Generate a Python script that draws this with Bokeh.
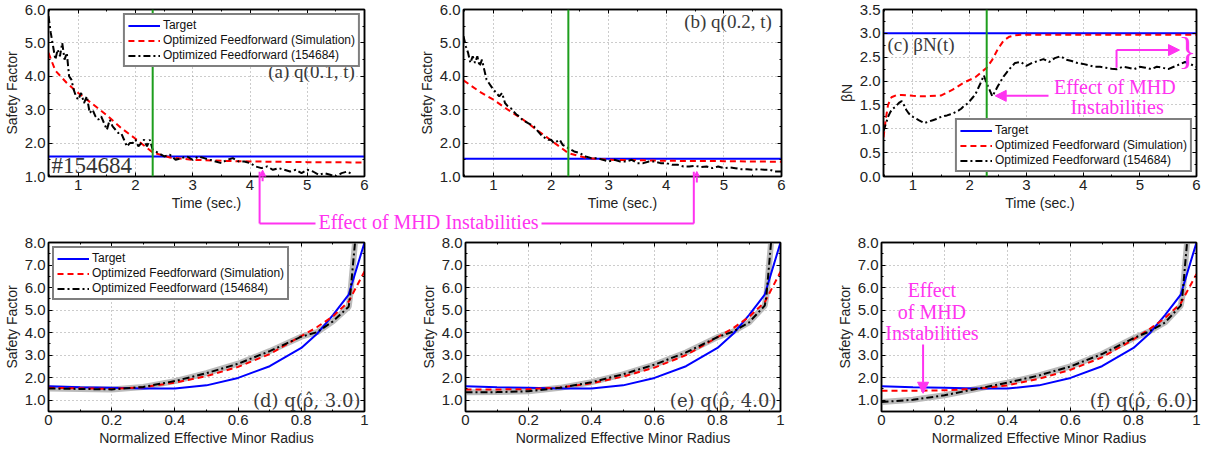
from bokeh.plotting import figure
from bokeh.layouts import column, row
from bokeh.models import (Range1d, LinearAxis, FixedTicker, NumeralTickFormatter,
                          Label, Arrow, NormalHead, Span)
from bokeh.embed import file_html
from bokeh.resources import INLINE

# ---------------- data ----------------
T_START, T_END = 0.48, 6.0
T_FF = 2.3  # feedforward/feedback switch time (green line)

# simulated (optimized feedforward) time traces
t_sim_a = [0.48, 0.6, 0.8, 1.0, 1.25, 1.5, 1.75, 2.0, 2.3, 2.6, 3.0, 3.5, 4.0, 5.0, 6.0]
q_sim_a = [4.7, 4.17, 3.8, 3.5, 3.17, 2.83, 2.45, 2.13, 1.72, 1.57, 1.5, 1.47, 1.45, 1.43, 1.42]
t_sim_b = [0.48, 0.75, 1.0, 1.25, 1.5, 1.75, 2.0, 2.3, 2.6, 3.0, 3.5, 4.0, 5.0, 6.0]
q_sim_b = [3.88, 3.55, 3.3, 3.0, 2.72, 2.4, 2.08, 1.7, 1.56, 1.5, 1.49, 1.47, 1.46, 1.44]
t_sim_c = [0.48, 0.52, 0.56, 0.62, 0.7, 0.8, 1.0, 1.2, 1.5, 1.7, 1.9, 2.1, 2.3, 2.4, 2.5,
           2.6, 2.7, 2.8, 2.9, 3.0, 4.0, 5.0, 6.0]
beta_sim = [0.82, 1.2, 1.5, 1.66, 1.7, 1.71, 1.69, 1.68, 1.7, 1.82, 1.97, 2.08, 2.28, 2.45, 2.68,
            2.85, 2.93, 2.96, 2.97, 2.97, 2.97, 2.97, 2.97]

# experimental (shot 154684) time traces
t_meas = [0.48, 0.52, 0.56, 0.60, 0.64, 0.68, 0.72, 0.76, 0.80, 0.84,
          0.88, 0.92, 0.96, 1.00, 1.05, 1.10, 1.15, 1.20, 1.25, 1.30,
          1.35, 1.40, 1.45, 1.50, 1.55, 1.60, 1.65, 1.70, 1.75, 1.80,
          1.85, 1.90, 1.95, 2.00, 2.05, 2.10, 2.15, 2.20, 2.25, 2.30,
          2.40, 2.50, 2.60, 2.70, 2.80, 2.90, 3.00, 3.10, 3.20, 3.30,
          3.40, 3.50, 3.60, 3.70, 3.80, 3.90, 4.00, 4.10, 4.20, 4.30,
          4.40, 4.50, 4.60, 4.70, 4.80, 4.90, 5.00, 5.10, 5.20, 5.30,
          5.40, 5.50, 5.60, 5.70, 5.80, 5.90, 6.00]
q_meas_a = [5.8, 5.3, 4.9, 4.5, 4.8, 4.6, 5.0, 4.5, 4.7, 4.0,
            3.9, 3.6, 3.4, 3.3, 3.5, 3.2, 3.4, 2.9, 3.0, 2.8,
            2.7, 2.8, 2.6, 2.4, 2.7, 2.5, 2.4, 2.3, 2.3, 2.1,
            1.9, 2.0, 2.0, 2.1, 1.9, 2.0, 2.1, 1.9, 2.1, 1.8,
            1.7, 1.6, 1.65, 1.5, 1.55, 1.6, 1.5, 1.6, 1.55, 1.5,
            1.45, 1.4, 1.5, 1.55, 1.45, 1.45, 1.4, 1.3, 1.25, 1.3,
            1.2, 1.25, 1.2, 1.15, 1.2, 1.1, 1.2, 1.15, 1.05, 1.1,
            1.05, 1.0, 1.1, 1.15, 1.05]
q_meas_b = [5.2, 4.9, 4.7, 4.4, 4.6, 4.4, 4.6, 4.3, 4.5, 4.2,
            3.9, 3.8, 3.7, 3.6, 3.5, 3.4, 3.5, 3.2, 3.1, 3.05,
            2.95, 2.85, 2.8, 2.7, 2.65, 2.6, 2.55, 2.5, 2.4, 2.3,
            2.2, 2.15, 2.1, 2.1, 2.0, 2.05, 2.1, 1.95, 1.9, 1.85,
            1.75, 1.7, 1.6, 1.55, 1.55, 1.5, 1.45, 1.5, 1.45, 1.45,
            1.5, 1.4, 1.4, 1.45, 1.45, 1.4, 1.4, 1.35, 1.35, 1.3,
            1.3, 1.32, 1.28, 1.3, 1.25, 1.3, 1.25, 1.27, 1.25, 1.22,
            1.22, 1.2, 1.22, 1.2, 1.2, 1.15, 1.15]
beta_meas = [0.95, 1.1, 1.25, 1.35, 1.42, 1.45, 1.5, 1.55, 1.58, 1.5,
             1.4, 1.33, 1.28, 1.25, 1.22, 1.18, 1.15, 1.12, 1.14, 1.16,
             1.18, 1.2, 1.23, 1.25, 1.27, 1.28, 1.3, 1.32, 1.35, 1.38,
             1.42, 1.48, 1.52, 1.58, 1.65, 1.72, 1.85, 1.98, 2.12, 1.95,
             1.68, 1.9, 2.1, 2.25, 2.38, 2.4, 2.32, 2.38, 2.42, 2.46,
             2.4, 2.48, 2.52, 2.45, 2.42, 2.38, 2.36, 2.33, 2.3, 2.3,
             2.28, 2.26, 2.25, 2.3, 2.28, 2.25, 2.3, 2.28, 2.25, 2.3,
             2.28, 2.25, 2.3, 2.35, 2.4, 2.35, 2.3]

q_target_a = 1.6
q_target_b = 1.53
beta_target = 3.0

# profiles
rho = [0, 0.1, 0.2, 0.3, 0.4, 0.5, 0.6, 0.7, 0.8, 0.85, 0.9, 0.95, 1.0]
q_target_prof = [1.62, 1.58, 1.55, 1.52, 1.52, 1.66, 1.99, 2.51, 3.32, 3.95, 4.78, 5.69, 8.0]
q_sim_d = [1.55, 1.53, 1.5, 1.58, 1.78, 2.07, 2.48, 3.05, 3.85, 4.25, 4.72, 5.38, 6.72]
q_sim_e = [1.48, 1.48, 1.49, 1.57, 1.75, 2.05, 2.45, 3.0, 3.8, 4.2, 4.7, 5.35, 6.7]
q_sim_f = [1.42, 1.42, 1.44, 1.5, 1.66, 1.95, 2.35, 2.9, 3.7, 4.15, 4.65, 5.3, 6.6]
rho_meas = [0, 0.1, 0.2, 0.3, 0.4, 0.5, 0.6, 0.7, 0.8, 0.85, 0.9, 0.95, 0.955, 0.97]
q_meas_d = [1.52, 1.5, 1.48, 1.59, 1.85, 2.2, 2.62, 3.18, 3.82, 4.02, 4.5, 5.15, 5.7, 8.0]
q_meas_e = [1.35, 1.36, 1.4, 1.55, 1.8, 2.15, 2.58, 3.12, 3.8, 4.05, 4.45, 5.2, 5.6, 8.0]
q_meas_f = [0.92, 1.02, 1.22, 1.5, 1.78, 2.1, 2.5, 3.05, 3.75, 4.05, 4.45, 5.2, 5.6, 8.0]

t_ticks = [1, 2, 3, 4, 5, 6]
q_ticks_top = [1, 2, 3, 4, 5, 6]
beta_ticks = [0, 0.5, 1.0, 1.5, 2.0, 2.5, 3.0, 3.5]
rho_ticks = [0, 0.2, 0.4, 0.6, 0.8, 1]
rho_tick_labels = ["0", "0.2", "0.4", "0.6", "0.8", "1"]
q_ticks_bot = [1, 2, 3, 4, 5, 6, 7, 8]

LEG_TARGET = "Target"
LEG_SIM = "Optimized Feedforward (Simulation)"
LEG_MEAS = "Optimized Feedforward (154684)"
MHD_TEXT = "Effect of MHD Instabilities"

# ---------------- style ----------------
SANS = "Liberation Sans"
SERIF = "Liberation Serif"
SERIF_MATH = "DejaVu Serif"
PINK = "#ff33f0"
GREEN = "#1e9e1e"
BLUE = "#0000ff"
RED = "#ff0000"
DASH = "6 4"
DASHDOT = "7 3 2 3"

TOP_FH, BOT_FH = 167, 169
BT, BB = 9, 36


def make_fig(xr, yr, fw, fh, bl, br, xticks, xminor, yticks, yminor, xlabel, ylabel):
    p = figure(frame_width=fw, frame_height=fh, x_range=Range1d(*xr), y_range=Range1d(*yr),
               output_backend="svg", toolbar_location=None,
               min_border_left=bl, min_border_right=br, min_border_top=BT, min_border_bottom=BB)
    p.outline_line_color = "black"
    p.outline_line_width = 1.5
    p.background_fill_color = "white"
    p.border_fill_color = "white"
    xt = FixedTicker(ticks=xticks, minor_ticks=xminor)
    yt = FixedTicker(ticks=yticks, minor_ticks=yminor)
    p.below[0].ticker = xt
    p.left[0].ticker = yt
    p.xgrid.ticker = xt
    p.ygrid.ticker = yt
    p.left[0].formatter = NumeralTickFormatter(format="0.0")
    p.below[0].axis_label = xlabel
    p.left[0].axis_label = ylabel
    for ax in (p.below[0], p.left[0]):
        ax.axis_line_width = 1.5
        ax.axis_line_color = "black"
        ax.major_tick_in = 4
        ax.major_tick_out = 0
        ax.minor_tick_in = 2
        ax.minor_tick_out = 0
        ax.major_tick_line_color = "black"
        ax.major_label_text_font = SANS
        ax.major_label_text_font_size = "15px"
        ax.major_label_text_color = "#222222"
        ax.axis_label_text_font = SANS
        ax.axis_label_text_font_size = "14px"
        ax.axis_label_text_font_style = "normal"
        ax.axis_label_text_color = "#222222"
        ax.major_label_standoff = 3
        ax.axis_label_standoff = 2
    for loc, tk, vals in (("right", yt, yticks), ("above", xt, xticks)):
        ax = LinearAxis(ticker=tk, major_label_standoff=0,
                        major_label_overrides={v: "" for v in vals},
                        major_tick_in=4, major_tick_out=0, minor_tick_in=2, minor_tick_out=0,
                        axis_line_width=1.5, axis_line_color="black")
        p.add_layout(ax, loc)
    p.grid.grid_line_color = "#999999"
    p.grid.grid_line_dash = "1 3"
    p.grid.grid_line_width = 1
    return p


def style_legend(p, loc):
    lg = p.legend[0]
    lg.location = loc
    lg.border_line_color = "black"
    lg.border_line_width = 2
    lg.background_fill_alpha = 1
    lg.label_text_font = SANS
    lg.label_text_font_size = "12px"
    lg.label_text_color = "#111111"
    lg.glyph_width = 32
    lg.glyph_height = 13
    lg.label_height = 13
    lg.label_standoff = 3
    lg.spacing = 1
    lg.padding = 3
    lg.margin = 4


def inset(p, x, y, text, align, xoff, size="19px", color="#3a3a3a", font=SERIF, baseline="middle"):
    p.add_layout(Label(x=x, y=y, x_offset=xoff, text=text, text_align=align,
                       text_baseline=baseline, text_font=font, text_font_size=size,
                       text_color=color))


def pink_arrow(p, x0, y0, x1, y1, head=True):
    p.add_layout(Arrow(x_start=x0, y_start=y0, x_end=x1, y_end=y1,
                       line_color=PINK, line_width=2,
                       end=NormalHead(size=11, fill_color=PINK, line_color=PINK) if head else None))


t_minor = [0.5 * k for k in range(1, 13)]
q_minor_top = [1 + 0.5 * k for k in range(0, 11)]
beta_minor = [0.25 * k for k in range(0, 15)]
rho_minor = [0.1 * k for k in range(0, 11)]
q_minor_bot = [0.5 + 0.5 * k for k in range(0, 16)]

# geometry (pixels)
FW_A, BL_A, BR_A = 316, 45, 41
FW_B, BL_B, BR_B = 318, 58, 42
FW_C, BL_C, BR_C = 313, 60, 5
FW_D, BL_D, BR_D = 316, 45, 41
FW_E, BL_E, BR_E = 315, 60, 43
FW_F, BL_F, BR_F = 315, 58, 5

ARROW_T_A, ARROW_Q_A = 4.22, 1.19
ARROW_T_B, ARROW_Q_B = 4.53, 1.15

# ---------------- panel (a) ----------------
pa = make_fig((T_START, T_END), (1, 6), FW_A, TOP_FH, BL_A, BR_A, t_ticks, t_minor,
              q_ticks_top, q_minor_top, "Time (sec.)", "Safety Factor")
pa.add_layout(Span(location=T_FF, dimension="height", line_color=GREEN, line_width=2))
pa.line([T_START, T_END], [q_target_a, q_target_a], line_color=BLUE, line_width=2, legend_label=LEG_TARGET)
pa.line(t_sim_a, q_sim_a, line_color=RED, line_width=2, line_dash=DASH, legend_label=LEG_SIM)
pa.line(t_meas[:len(q_meas_a)], q_meas_a, line_color="black", line_width=2, line_dash=DASHDOT,
        legend_label=LEG_MEAS)
style_legend(pa, "top_right")
inset(pa, T_END, 4.15, "(a)  q(0.1, t)", "right", -5)
inset(pa, T_START, 1.33, "#154684", "left", 3, size="23px", color="#333333")
pink_arrow(pa, ARROW_T_A, 0.5, ARROW_T_A, ARROW_Q_A)

# ---------------- panel (b) ----------------
pb = make_fig((T_START, T_END), (1, 6), FW_B, TOP_FH, BL_B, BR_B, t_ticks, t_minor,
              q_ticks_top, q_minor_top, "Time (sec.)", "Safety Factor")
pb.add_layout(Span(location=T_FF, dimension="height", line_color=GREEN, line_width=2))
pb.line([T_START, T_END], [q_target_b, q_target_b], line_color=BLUE, line_width=2)
pb.line(t_sim_b, q_sim_b, line_color=RED, line_width=2, line_dash=DASH)
pb.line(t_meas, q_meas_b, line_color="black", line_width=2, line_dash=DASHDOT)
inset(pb, T_END, 5.63, "(b)  q(0.2, t)", "right", -5)
pink_arrow(pb, ARROW_T_B, 0.5, ARROW_T_B, ARROW_Q_B)

# ---------------- panel (c) ----------------
pc = make_fig((T_START, T_END), (0, 3.5), FW_C, TOP_FH, BL_C, BR_C, t_ticks, t_minor,
              beta_ticks, beta_minor, "Time (sec.)", "βN")
pc.add_layout(Span(location=T_FF, dimension="height", line_color=GREEN, line_width=2))
pc.line([T_START, T_END], [beta_target, beta_target], line_color=BLUE, line_width=2, legend_label=LEG_TARGET)
pc.line(t_sim_c, beta_sim, line_color=RED, line_width=2, line_dash=DASH, legend_label=LEG_SIM)
pc.line(t_meas, beta_meas, line_color="black", line_width=2, line_dash=DASHDOT, legend_label=LEG_MEAS)
style_legend(pc, "bottom_right")
inset(pc, T_START, 2.76, "(c)  βN(t)", "left", 4)
inset(pc, 4.56, 1.88, "Effect of MHD", "center", 0, size="20px", color=PINK)
inset(pc, 4.6, 1.45, "Instabilities", "center", 0, size="20px", color=PINK)
pink_arrow(pc, 3.39, 1.69, 2.45, 1.69)
pc.segment(x0=[4.59], y0=[2.28], x1=[4.59], y1=[2.65], line_color=PINK, line_width=2)
pink_arrow(pc, 4.59, 2.65, 5.7, 2.65)
inset(pc, 5.84, 2.64, "}", "center", 0, size="38px", color=PINK)

# ---------------- profile panels ----------------
def profile_panel(fw, bl, br, q_sim, q_meas, tag, legend):
    p = make_fig((0, 1), (0.5, 8), fw, BOT_FH, bl, br, rho_ticks, rho_minor,
                 q_ticks_bot, q_minor_bot, "Normalized Effective Minor Radius", "Safety Factor")
    p.below[0].major_label_overrides = dict(zip(rho_ticks, rho_tick_labels))
    kw_t = dict(legend_label=LEG_TARGET) if legend else {}
    kw_s = dict(legend_label=LEG_SIM) if legend else {}
    kw_m = dict(legend_label=LEG_MEAS) if legend else {}
    p.line(rho_meas, q_meas, line_color="#b4b4b4", line_width=6, line_alpha=0.9)
    p.line(rho, q_target_prof, line_color=BLUE, line_width=2, **kw_t)
    p.line(rho, q_sim, line_color=RED, line_width=2, line_dash=DASH, **kw_s)
    p.line(rho_meas, q_meas, line_color="black", line_width=2, line_dash=DASHDOT, **kw_m)
    if legend:
        style_legend(p, "top_left")
    inset(p, 1, 1.0, tag, "right", -4, size="18px", font=SERIF_MATH)
    return p


pd_ = profile_panel(FW_D, BL_D, BR_D, q_sim_d, q_meas_d, "(d) q(ρ̂, 3.0)", True)
pe = profile_panel(FW_E, BL_E, BR_E, q_sim_e, q_meas_e, "(e) q(ρ̂, 4.0)", False)
pf = profile_panel(FW_F, BL_F, BR_F, q_sim_f, q_meas_f, "(f) q(ρ̂, 6.0)", False)
inset(pf, 0.16, 5.9, "Effect", "center", 0, size="20px", color=PINK)
inset(pf, 0.16, 4.92, "of MHD", "center", 0, size="20px", color=PINK)
inset(pf, 0.16, 4.0, "Instabilities", "center", 0, size="20px", color=PINK)
pink_arrow(pf, 0.132, 3.47, 0.132, 1.31)

# ---------------- connector strip between rows (overlaps the top row's axis area) ----------------
W_A = BL_A + FW_A + BR_A
W_B = BL_B + FW_B + BR_B
W_C = BL_C + FW_C + BR_C
TOTAL_W = W_A + W_B + W_C
STRIP_H = 20
OVER = BB + 6
SH = STRIP_H + OVER
xa = BL_A + (ARROW_T_A - T_START) / (T_END - T_START) * FW_A
xb = W_A + BL_B + (ARROW_T_B - T_START) / (T_END - T_START) * FW_B
text_cx = 428
half_gap = 113
ymid = STRIP_H / 2

strip = figure(width=TOTAL_W, height=SH, x_range=Range1d(0, TOTAL_W), y_range=Range1d(0, SH),
               output_backend="svg", toolbar_location=None, min_border=0,
               x_axis_location=None, y_axis_location=None, margin=(-OVER, 0, 0, 0))
strip.outline_line_color = None
strip.background_fill_color = None
strip.border_fill_color = None
strip.grid.visible = False
strip.segment(x0=[xa, xa, text_cx + half_gap, xb], y0=[SH, ymid, ymid, ymid],
              x1=[xa, text_cx - half_gap, xb, xb], y1=[ymid, ymid, ymid, SH],
              line_color=PINK, line_width=2)
strip.add_layout(Label(x=text_cx, y=ymid + 1.5, text=MHD_TEXT, text_align="center", text_baseline="middle",
                       text_font=SERIF, text_font_size="20px", text_color=PINK))

layout = column(row(pa, pb, pc), strip, row(pd_, pe, pf))
open("out.html", "w").write(file_html(layout, INLINE))
